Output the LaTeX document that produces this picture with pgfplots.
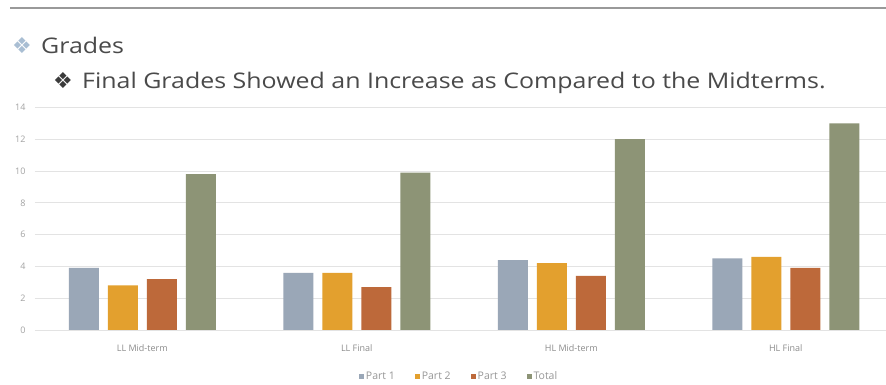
\documentclass[border=0pt]{standalone}
\usepackage{pgfplots}
\pgfplotsset{compat=1.18}
\usepackage{fontspec}
\setmainfont{Open Sans}
\newfontfamily\titlefont{Open Sans}
\newfontfamily\dingfont{DejaVu Sans}
\definecolor{pone}{HTML}{9AA7B7}
\definecolor{ptwo}{HTML}{E3A02E}
\definecolor{pthree}{HTML}{BD693A}
\definecolor{ptotal}{HTML}{8D9476}
\definecolor{txtgrey}{HTML}{8C8C8C}
\definecolor{gridgrey}{HTML}{E3E3E3}
\definecolor{titlegrey}{HTML}{4A4A4A}
\definecolor{bulletblue}{HTML}{A9BED3}
\begin{document}
\begin{tikzpicture}
\useasboundingbox (0pt,0pt) rectangle (886pt,385pt);
\fill[white] (0pt,0pt) rectangle (886pt,385pt);
\draw[line width=2pt, color=black!40] (10pt,377pt) -- (886pt,377pt);
\node[anchor=base west, inner sep=0, text=bulletblue] at (12pt,331pt) {\dingfont\fontsize{22}{22}\selectfont ❖};
\node[anchor=base west, inner sep=0, text=titlegrey] at (41pt,331pt) {\scalebox{1.16}[1]{\titlefont\fontsize{21.5}{22}\selectfont Grades}};
\node[anchor=base west, inner sep=0, text=titlegrey!80!black] at (53pt,296.7pt) {\dingfont\fontsize{22}{22}\selectfont ❖};
\node[anchor=base west, inner sep=0, text=titlegrey] at (82pt,296.7pt) {\scalebox{1.16}[1]{\titlefont\fontsize{21.5}{22}\selectfont Final Grades Showed an Increase as Compared to the Midterms.}};
\begin{axis}[
  at={(35pt,55pt)}, anchor=south west,
  x=214.5pt, y=15.9pt,
  xmin=-0.5, xmax=3.47, ymin=0, ymax=14,
  ybar=9pt, bar width=30pt,
  axis line style={draw=none},
  major tick length=0pt,
  ymajorgrids,
  grid style={gridgrey, line width=0.8pt},
  ytick={0,2,...,14},
  xtick={0,1,2,3},
  xticklabels={LL Mid-term, LL Final, HL Mid-term, HL Final},
  /pgf/number format/assume math mode=true,
  yticklabel style={font=\fontsize{9}{10}\selectfont, text=txtgrey!80, xshift=-6pt},
  xticklabel style={font=\fontsize{9}{10}\selectfont, text=txtgrey, yshift=-11pt},
  legend style={at={(0.498,-0.21)}, anchor=center, draw=none, fill=none,
    font=\fontsize{10.5}{11}\selectfont, text=txtgrey!90, legend columns=4,
    nodes={inner sep=1.5pt},
    /tikz/every even column/.append style={column sep=19pt}},
  legend image code/.code={\fill[#1] (0pt,-2.5pt) rectangle (5pt,2.5pt);},
]
\addplot[fill=pone, draw=none] coordinates {(0,3.9) (1,3.6) (2,4.4) (3,4.5)};
\addplot[fill=ptwo, draw=none] coordinates {(0,2.8) (1,3.6) (2,4.2) (3,4.6)};
\addplot[fill=pthree, draw=none] coordinates {(0,3.2) (1,2.7) (2,3.4) (3,3.9)};
\addplot[fill=ptotal, draw=none] coordinates {(0,9.8) (1,9.9) (2,12.0) (3,13.0)};
\legend{Part 1, Part 2, Part 3, Total}
\end{axis}
\end{tikzpicture}
\end{document}
